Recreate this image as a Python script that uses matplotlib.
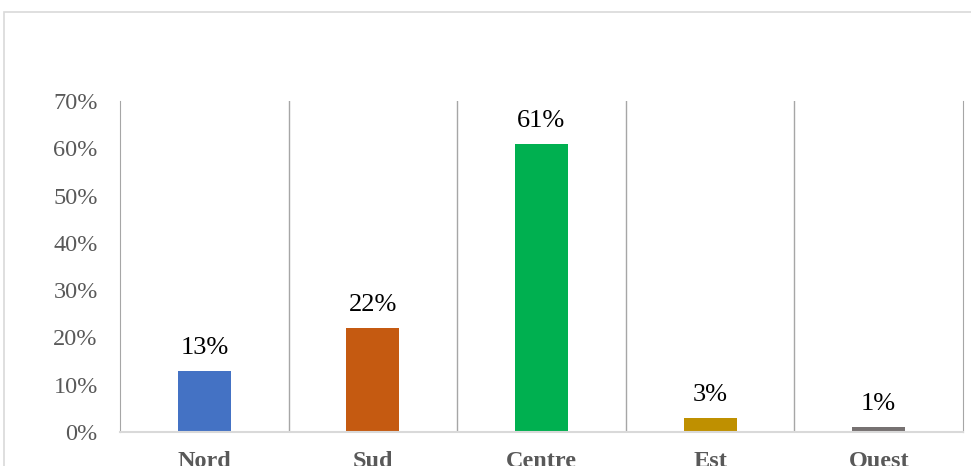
import matplotlib.pyplot as plt
import matplotlib.ticker as mtick
from matplotlib.patches import Rectangle

regions = ["Nord", "Sud", "Centre", "Est", "Ouest"]
shares = [13, 22, 61, 3, 1]
colors = ["#4472C4", "#C55A11", "#00B050", "#BF9000", "#767171"]

plt.rcParams['font.family'] = ['Liberation Serif', 'DejaVu Serif']

fig = plt.figure(figsize=(9.71, 4.66), dpi=100)
# outer chart border (cut off on the right and bottom)
fig.patches.append(Rectangle((4 / 971, -0.1), 1.2, (466 - 12) / 466 + 0.1,
                             transform=fig.transFigure, fill=False,
                             edgecolor="#d9d9d9", linewidth=1.2))

ax = fig.add_axes([120 / 971, 34 / 466, 843 / 971, 331 / 466])
x = range(len(regions))
ax.bar(x, shares, width=0.315, color=colors)
for i, v in enumerate(shares):
    ax.annotate(f"{v}%", (i, v), xytext=(0, 8.5), textcoords="offset points",
                ha="center", va="bottom", fontsize=19, color="black")

ax.set_xlim(-0.5, len(regions) - 0.5)
ax.set_ylim(0, 70)
ax.set_yticks(range(0, 71, 10))
ax.yaxis.set_major_formatter(mtick.FormatStrFormatter("%d%%"))
ax.set_xticks(list(x))
ax.set_xticklabels(regions, fontweight="bold")
for b in [i + 0.5 for i in range(len(regions) - 1)]:
    ax.axvline(b, color="#a6a6a6", linewidth=1)
ax.tick_params(axis="y", length=0, pad=16, labelsize=17.5, labelcolor="#595959")
ax.tick_params(axis="x", length=0, pad=14, labelsize=17.5, labelcolor="#595959")
for s in ["left", "right"]:
    ax.spines[s].set_color("#a6a6a6")
ax.spines["top"].set_visible(False)
ax.spines["bottom"].set_color("#d9d9d9")
ax.spines["bottom"].set_linewidth(1.5)

fig.savefig("out.png", dpi=100)
